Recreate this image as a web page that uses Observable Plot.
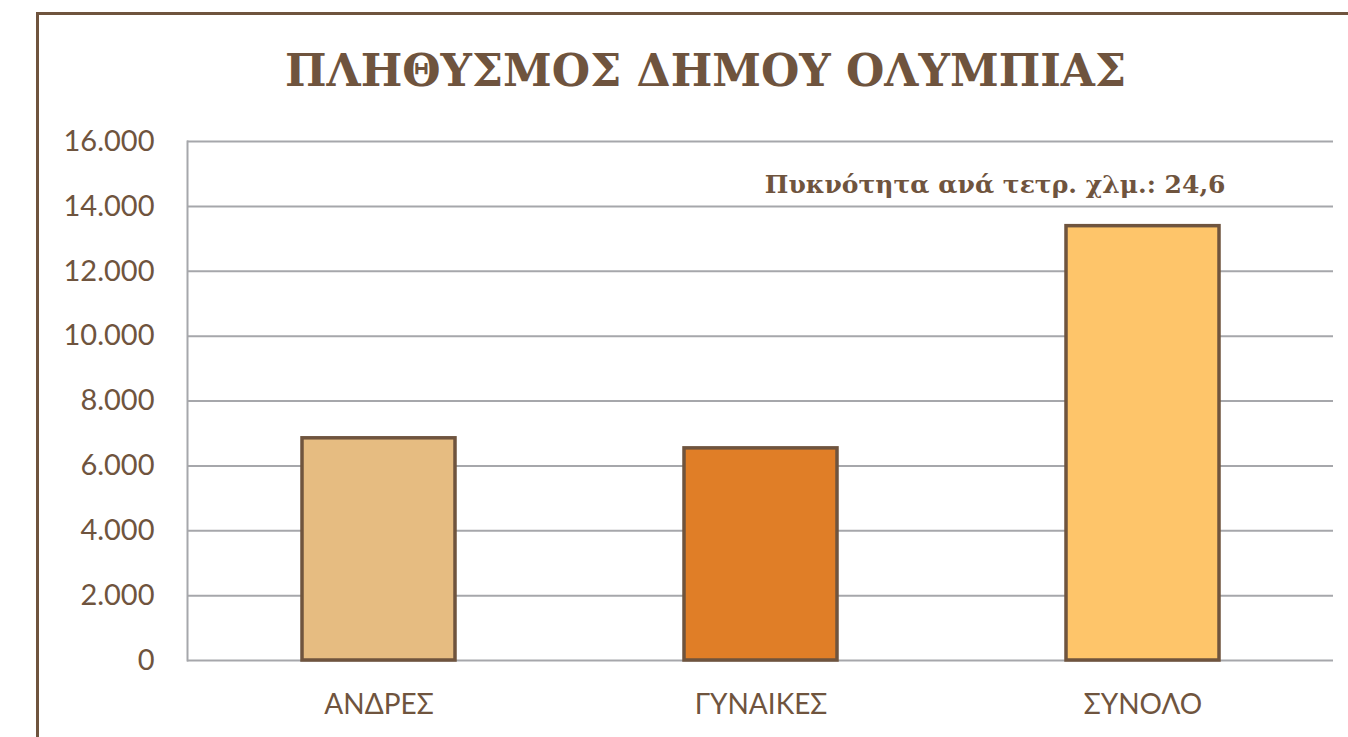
<!DOCTYPE html>
<html>
<head>
<meta charset="utf-8">
<script src="https://cdn.jsdelivr.net/npm/d3@7"></script>
<script src="https://cdn.jsdelivr.net/npm/@observablehq/plot@0.6"></script>
<style>
  html, body { margin: 0; padding: 0; background: #fff; overflow: hidden; }
  #wrap { position: relative; width: 1348px; height: 737px; }
  #border { position: absolute; left: 36px; top: 12px; width: 1400px; height: 800px;
            border-left: 3px solid #6f543e; border-top: 3px solid #6f543e; box-sizing: border-box; }
  #chart { position: absolute; left: 0; top: 0; }
</style>
</head>
<body>
<div id="wrap"><div id="border"></div><div id="chart"></div></div>
<script>
const title = "ΠΛΗΘΥΣΜΟΣ ΔΗΜΟΥ ΟΛΥΜΠΙΑΣ";
const note = "Πυκνότητα ανά τετρ. χλμ.: 24,6";
const categories = ["ΑΝΔΡΕΣ", "ΓΥΝΑΙΚΕΣ", "ΣΥΝΟΛΟ"];
const values = [6850, 6540, 13390];
const colors = ["#e6bc81", "#e07e27", "#fec56a"];
const yTicks = [0, 2000, 4000, 6000, 8000, 10000, 12000, 14000, 16000];

const data = categories.map((c, i) => ({cat: c, value: values[i]}));
const brown = "#6f543e";
const fmt = d => d3.format(",")(d).replace(/,/g, ".");

const chart = Plot.plot({
  width: 1348,
  height: 737,
  marginLeft: 187,
  marginRight: 15,
  marginTop: 141,
  marginBottom: 77,
  style: {background: "transparent", fontFamily: "Lato, sans-serif"},
  x: {domain: categories, paddingInner: 0.6, paddingOuter: 0.3, label: null},
  y: {domain: [0, 16000], label: null},
  color: {domain: categories, range: colors},
  marks: [
    Plot.gridY(yTicks, {stroke: "#a6a7ab", strokeOpacity: 1, strokeWidth: 2}),
    Plot.frame({anchor: "left", stroke: "#a6a7ab", strokeWidth: 2}),
    Plot.barY(data, {x: "cat", y: "value", fill: "cat", stroke: brown, strokeWidth: 3.5}),
    Plot.axisY(yTicks, {tickSize: 0, tickPadding: 33, tickFormat: fmt, fontSize: 29, fill: brown, color: brown}),
    Plot.axisX({tickSize: 0, tickPadding: 34, fontSize: 28, fill: brown, color: brown}),
    Plot.text([title], {frameAnchor: "top", dx: -55, dy: -87, fontFamily: "DejaVu Serif", fontWeight: "bold", fontSize: 44, fill: brown}),
    Plot.text([note], {frameAnchor: "top-right", dx: -108, dy: 34, fontFamily: "DejaVu Serif", fontWeight: "bold", fontSize: 25, fill: brown})
  ]
});
document.getElementById("chart").appendChild(chart);
</script>
</body>
</html>
